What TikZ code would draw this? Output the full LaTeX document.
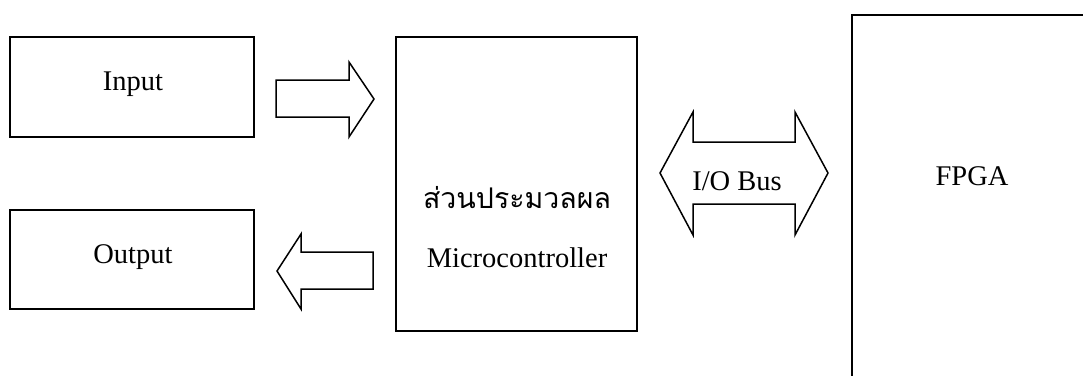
\documentclass[tikz,border=0pt]{standalone}
\usepackage{fontspec}
\setmainfont{Liberation Serif}
\newfontfamily\thaifont[Script=Thai]{Loma}
\usepackage{tikz}

\begin{document}
\begin{tikzpicture}[x=0.4pt, y=-0.4pt, line width=0.6pt,
    box/.style={draw=black, rectangle, inner sep=0pt},
    lbl/.style={anchor=base, inner sep=0pt, font=\fontsize{11.4}{13}\selectfont}]
    \useasboundingbox (0, 0) rectangle (1083, 375);
    \clip (0, 0) rectangle (1083, 375);

    % draw boxes
    \node[box, minimum width=97.6pt, minimum height=40pt] (input) at (132, 87) {};
    \node[box, minimum width=97.6pt, minimum height=39.6pt] (output) at (132, 259.5) {};
    \node[box, minimum width=96.4pt, minimum height=117.6pt] (mcu) at (516.5, 184) {};
    \node[box, line width=0.8pt, minimum width=99.2pt, minimum height=154pt] (fpga) at (976, 207.5) {};

    % draw labels
    \node[lbl] (inputtext) at (133, 90) {Input};
    \node[lbl] (outputtext) at (133, 263) {Output};
    \node[lbl, font=\fontsize{11.4}{13}\thaifont] (mcuthai) at (517, 208) {ส่วนประมวลผล};
    \node[lbl] (mcutext) at (517, 267) {Microcontroller};
    \node[lbl] (fpgatext) at (972, 185) {FPGA};

    % draw block arrows
    \draw[color=black] (276, 80) -- (349, 80) -- (349, 62) -- (374, 99)
      -- (349, 137) -- (349, 117) -- (276, 117) -- cycle;
    \draw[color=black] (277, 271) -- (301, 234) -- (301, 252) -- (373, 252)
      -- (373, 289) -- (301, 289) -- (301, 309) -- cycle;
    \draw[color=black] (660, 173) -- (693, 112) -- (693, 142) -- (795, 142) -- (795, 112)
      -- (828, 173) -- (795, 235) -- (795, 204) -- (693, 204) -- (693, 235) -- cycle;
    \node[lbl] (bustext) at (737, 190) {I/O Bus};
\end{tikzpicture}
\end{document}
